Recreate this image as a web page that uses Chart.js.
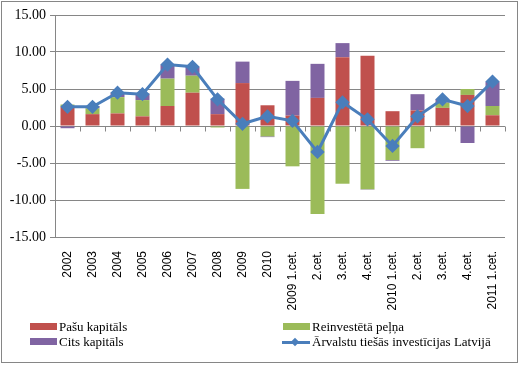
<!DOCTYPE html>
<html>
<head>
<meta charset="utf-8">
<script src="https://cdn.jsdelivr.net/npm/chart.js@4.4.1/dist/chart.umd.min.js"></script>
<style>
  html, body { margin: 0; padding: 0; background: #fff; }
  #wrap { position: relative; width: 520px; height: 365px; overflow: hidden; }
  #frame { position: absolute; left: 1px; top: 1px; width: 515px; height: 360px; border: 1px solid #868686; box-sizing: content-box; pointer-events: none; }
  canvas { position: absolute; left: 0; top: 0; }
  .lg { position: absolute; font-family: "Liberation Serif", "Times New Roman", serif; font-size: 13px; color: #000; white-space: nowrap; line-height: 14px; }
  .sw { position: absolute; }
</style>
</head>
<body>
<div id="wrap">
  <canvas id="c" width="520" height="365"></canvas>
  <div id="legend"></div>
  <div id="frame"></div>
</div>
<script>
const categories = ['2002','2003','2004','2005','2006','2007','2008','2009','2010',
  '2009 1.cet.','2.cet.','3.cet.','4.cet.','2010 1.cet.','2.cet.','3.cet.','4.cet.','2011 1.cet.'];
const pasuKapitals = [2.6, 1.6, 1.7, 1.3, 2.7, 4.5, 1.6, 5.8, 2.8, 1.4, 3.8, 9.3, 9.5, 2.0, 2.1, 2.45, 4.2, 1.45];
const reinvesteta  = [0.3, 0.8, 2.2, 2.2, 3.7, 2.3, -0.2, -8.5, -1.4, -5.45, -11.9, -7.8, -8.55, -4.6, -3.0, 0.7, 0.8, 1.25];
const citsKapitals = [-0.3, 0.3, 0.6, 0.9, 1.9, 1.2, 2.1, 2.9, -0.1, 4.7, 4.6, 1.9, -0.05, -0.1, 2.2, 0.5, -2.3, 3.3];
const arvalstuFDI  = [2.6, 2.6, 4.5, 4.3, 8.3, 8.0, 3.6, 0.3, 1.3, 0.7, -3.5, 3.2, 0.9, -2.7, 1.3, 3.6, 2.7, 6.0];
const yTicks = [-15, -10, -5, 0, 5, 10, 15];

const RED = '#C0504D', GREEN = '#9BBB59', PURPLE = '#8064A2', BLUE = '#4A7EBB';
const GRID = '#868686';

const zeroAxis = {
  id: 'zeroAxis',
  beforeDatasetsDraw(chart) {
    const { ctx, scales: { x, y } } = chart;
    const y0 = y.getPixelForValue(0);
    const step = x.getPixelForValue(1) - x.getPixelForValue(0);
    ctx.save();
    ctx.strokeStyle = GRID;
    ctx.lineWidth = 1;
    ctx.beginPath();
    for (let i = 0; i <= categories.length; i++) {
      const px = Math.round(x.getPixelForValue(i) - step / 2) + 0.5;
      ctx.moveTo(px, Math.round(y0) + 0.5);
      ctx.lineTo(px, Math.round(y0) + 5.5);
    }
    ctx.stroke();
    ctx.restore();
  }
};

const chart = new Chart(document.getElementById('c'), {
  data: {
    labels: categories,
    datasets: [
      { type: 'line', label: 'Ārvalstu tiešās investīcijas Latvijā', data: arvalstuFDI, stack: 'line', order: 0,
        borderColor: BLUE, backgroundColor: BLUE, borderWidth: 3, pointStyle: 'rectRot', pointRadius: 5,
        pointBackgroundColor: BLUE, pointBorderColor: BLUE, tension: 0 },
      { type: 'bar', label: 'Pašu kapitāls', data: pasuKapitals, backgroundColor: RED, stack: 's', order: 1 },
      { type: 'bar', label: 'Reinvestētā peļņa', data: reinvesteta, backgroundColor: GREEN, stack: 's', order: 1 },
      { type: 'bar', label: 'Cits kapitāls', data: citsKapitals, backgroundColor: PURPLE, stack: 's', order: 1 }
    ]
  },
  options: {
    responsive: false,
    animation: false,
    maintainAspectRatio: false,
    layout: { padding: { top: 15, right: 15, left: 0, bottom: 0 } },
    datasets: { bar: { barPercentage: 0.56, categoryPercentage: 1 } },
    plugins: { legend: { display: false }, tooltip: { enabled: false } },
    scales: {
      x: {
        stacked: true,
        grid: { display: false },
        border: { display: false },
        ticks: { minRotation: 90, maxRotation: 90, autoSkip: false, padding: 6, color: '#000',
          font: { family: '"Liberation Sans", Arial, sans-serif', size: 12 } },
        afterFit(s) { s.height = 128; }
      },
      y: {
        stacked: true,
        min: -15, max: 15,
        afterBuildTicks(s) { s.ticks = yTicks.map(v => ({ value: v })); },
        grid: { color: GRID, lineWidth: 1, tickLength: 5, drawTicks: true, tickColor: GRID },
        border: { display: true, color: GRID, width: 1 },
        ticks: { color: '#000', padding: 4, callback: v => Number(v).toFixed(2),
          font: { family: '"Liberation Serif", "Times New Roman", serif', size: 14 } },
        afterFit(s) { s.width = 55; }
      }
    }
  },
  plugins: [zeroAxis]
});

// HTML legend built from the chart's datasets
(function buildLegend() {
  const ds = chart.data.datasets;
  const byLabel = l => ds.find(d => d.label === l);
  const items = [
    { d: byLabel('Pašu kapitāls'), left: 30, top: 320 },
    { d: byLabel('Reinvestētā peļņa'), left: 283, top: 320 },
    { d: byLabel('Cits kapitāls'), left: 30, top: 335 },
    { d: byLabel('Ārvalstu tiešās investīcijas Latvijā'), left: 283, top: 335 }
  ];
  const lg = document.getElementById('legend');
  items.forEach(it => {
    if (it.d.type === 'line') {
      const ln = document.createElement('div');
      ln.className = 'sw';
      ln.style.cssText = `left:${it.left - 1}px;top:${it.top + 6}px;width:28px;height:3px;background:${it.d.borderColor}`;
      lg.appendChild(ln);
      const dm = document.createElement('div');
      dm.className = 'sw';
      dm.style.cssText = `left:${it.left + 9}px;top:${it.top + 4}px;width:6px;height:6px;background:${it.d.borderColor};transform:rotate(45deg)`;
      lg.appendChild(dm);
    } else {
      const sw = document.createElement('div');
      sw.className = 'sw';
      sw.style.cssText = `left:${it.left}px;top:${it.top + 3}px;width:27px;height:7px;background:${it.d.backgroundColor}`;
      lg.appendChild(sw);
    }
    const t = document.createElement('div');
    t.className = 'lg';
    t.style.left = (it.left + 29) + 'px';
    t.style.top = it.top + 'px';
    t.textContent = it.d.label;
    lg.appendChild(t);
  });
})();
</script>
</body>
</html>
